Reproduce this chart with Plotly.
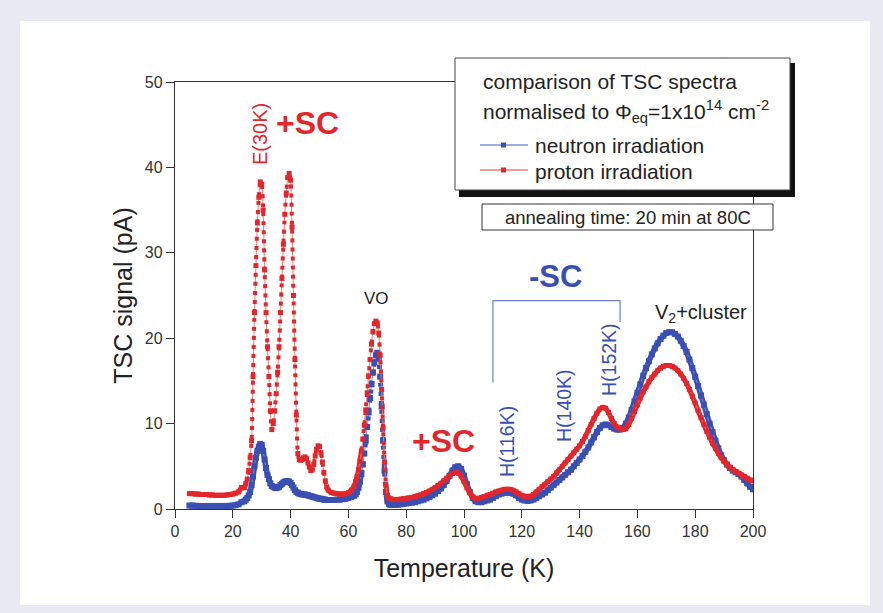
import plotly.graph_objects as go

# ---------------- data ----------------
temp_grid = (list(range(5, 24)) + [24 + 0.5 * i for i in range(59)] + list(range(54, 63))
             + [62.5 + 0.5 * i for i in range(26)] + list(range(76, 201)))

tsc_proton = [
    # 5-23 K
    1.8, 1.8, 1.75, 1.75, 1.7, 1.7, 1.7, 1.65, 1.65, 1.6, 1.6, 1.6, 1.6, 1.65, 1.7, 1.75, 1.85, 2.0, 2.5,
    # 24-53 K (0.5 K)
    2.5, 3.0, 3.5, 4.5, 6.0, 8.0, 15.5, 23.0, 28.5, 33.5,
    36.5, 38.3, 38.0, 35.0, 28.0, 23.0, 19.0, 15.5, 11.5, 9.3,
    10.0, 11.5, 13.5, 16.0, 19.0, 23.0, 27.0, 31.0, 34.5, 37.0,
    38.8, 39.3, 38.5, 33.0, 25.0, 17.5, 11.0, 6.5, 5.8, 5.7,
    5.8, 6.0, 6.1, 5.9, 5.4, 4.9, 4.5, 4.6, 5.2, 6.2,
    7.0, 7.4, 7.3, 6.6, 5.5, 4.3, 3.3, 2.6, 2.2,
    # 54-62 K
    1.95, 1.85, 1.8, 1.75, 1.75, 1.8, 1.9, 2.2, 2.7,
    # 62.5-75 K (0.5 K)
    3.2, 3.8, 4.6, 5.6, 6.8, 8.2, 9.8, 11.6, 13.6, 15.6,
    17.5, 19.3, 20.8, 21.7, 22.0, 21.8, 20.6, 18.0, 14.0, 9.5,
    5.5, 2.8, 1.6, 1.3, 1.2, 1.15,
    # 76-200 K
    1.1, 1.1, 1.15, 1.2, 1.25, 1.3, 1.35, 1.45, 1.55, 1.65,
    1.8, 1.95, 2.1, 2.3, 2.5, 2.75, 3.0, 3.3, 3.6, 3.9,
    4.15, 4.25, 4.2, 3.85, 3.2, 2.5, 1.9, 1.45, 1.25, 1.25,
    1.35, 1.45, 1.6, 1.7, 1.85, 2.0, 2.1, 2.2, 2.3, 2.3,
    2.3, 2.2, 2.0, 1.8, 1.6, 1.5, 1.45, 1.5, 1.7, 2.0,
    2.3, 2.6, 2.9, 3.2, 3.5, 3.8, 4.2, 4.6, 5.0, 5.4,
    5.8, 6.2, 6.6, 7.0, 7.4, 7.9, 8.5, 9.2, 9.9, 10.6,
    11.2, 11.7, 11.9, 11.8, 11.3, 10.6, 10.0, 9.6, 9.4, 9.3,
    9.4, 9.9, 10.6, 11.4, 12.2, 13.0, 13.7, 14.3, 14.9, 15.4,
    15.8, 16.2, 16.5, 16.7, 16.8, 16.8, 16.7, 16.5, 16.2, 15.8,
    15.3, 14.7, 14.0, 13.2, 12.4, 11.5, 10.7, 9.9, 9.1, 8.4,
    7.7, 7.1, 6.5, 6.0, 5.6, 5.2, 4.9, 4.6, 4.4, 4.2,
    4.0, 3.8, 3.6, 3.4, 3.3,
]

tsc_neutron = [
    # 5-23 K
    0.4, 0.4, 0.38, 0.36, 0.35, 0.35, 0.35, 0.35, 0.35, 0.35, 0.35, 0.35, 0.35, 0.36, 0.38, 0.4, 0.45, 0.55, 0.8,
    # 24-53 K (0.5 K)
    0.9, 1.1, 1.3, 1.6, 2.0, 2.8, 3.8, 5.0, 6.0, 6.8,
    7.3, 7.6, 7.5, 6.8, 5.8, 4.8, 4.0, 3.5, 3.0, 2.7,
    2.6, 2.5, 2.45, 2.5, 2.6, 2.8, 2.95, 3.1, 3.2, 3.25,
    3.25, 3.2, 3.05, 2.8, 2.5, 2.2, 2.0, 1.9, 1.8, 1.75,
    1.7, 1.7, 1.7, 1.65, 1.6, 1.55, 1.5, 1.45, 1.4, 1.35,
    1.3, 1.25, 1.2, 1.2, 1.15, 1.1, 1.1, 1.05, 1.05,
    # 54-62 K
    1.05, 1.05, 1.1, 1.1, 1.15, 1.2, 1.3, 1.4, 1.55,
    # 62.5-75 K (0.5 K)
    1.7, 2.0, 2.5, 3.2, 4.1, 5.2, 6.5, 8.0, 9.6, 11.3,
    13.0, 14.6, 16.0, 17.2, 18.0, 18.3, 17.6, 15.5, 12.0, 8.0,
    4.5, 2.0, 0.9, 0.6, 0.5, 0.5,
    # 76-200 K
    0.5, 0.5, 0.55, 0.6, 0.65, 0.7, 0.75, 0.8, 0.9, 1.0,
    1.1, 1.25, 1.4, 1.6, 1.8, 2.1, 2.4, 2.8, 3.3, 3.9,
    4.5, 4.9, 5.0, 4.7, 3.9, 2.9, 2.0, 1.3, 0.9, 0.8,
    0.8, 0.9, 1.0, 1.1, 1.3, 1.5, 1.7, 1.8, 1.9, 1.9,
    1.9, 1.8, 1.6, 1.3, 1.1, 1.0, 0.95, 1.0, 1.1, 1.3,
    1.5, 1.7, 1.9, 2.2, 2.5, 2.8, 3.1, 3.4, 3.7, 4.0,
    4.3, 4.6, 5.0, 5.4, 5.8, 6.2, 6.7, 7.2, 7.8, 8.4,
    9.0, 9.5, 9.8, 9.9, 9.8, 9.6, 9.4, 9.3, 9.3, 9.5,
    10.0, 10.7, 11.6, 12.6, 13.6, 14.6, 15.6, 16.5, 17.3, 18.1,
    18.8, 19.4, 19.9, 20.3, 20.6, 20.7, 20.7, 20.5, 20.2, 19.7,
    19.1, 18.4, 17.5, 16.5, 15.5, 14.4, 13.3, 12.2, 11.1, 10.0,
    9.0, 8.0, 7.1, 6.3, 5.7, 5.2, 4.8, 4.5, 4.3, 4.1,
    3.8, 3.4, 3.0, 2.6, 2.3,
]

x_ticks = [0, 20, 40, 60, 80, 100, 120, 140, 160, 180, 200]
y_ticks = [0, 10, 20, 30, 40, 50]

# bracket over the -SC hole traps (data coordinates)
bracket_x = [110, 110, 154, 154]
bracket_y = [14.8, 24.4, 24.4, 21.9]

RED = "#e3262b"
RED_LINE = "#f07a72"
BLUE = "#3a4fb3"
BLUE_LINE = "#7d8fd6"
FONT = "Liberation Sans, Arial, sans-serif"

# ---------------- layout geometry ----------------
W, H = 883, 613
L, R, T, B = 175, 130, 82, 104
PW, PH = W - L - R, H - T - B


def X(px):
    return (px - L) / PW


def Y(py):
    return (H - B - py) / PH


def keep(values, ranges, inside):
    """Split a series into the parts drawn as solid band / dotted steep parts."""
    out = []
    for t, v in zip(temp_grid, values):
        hit = any(a <= t <= b for a, b in ranges)
        out.append(v if hit == inside else None)
    return out


RED_STEEP = [(24.5, 52.5), (64.5, 73.0)]
BLUE_STEEP = [(64.5, 73.0)]

fig = go.Figure()


def add_series(values, steep, color, light, band_w, msize, name):
    # solid band where the measured points are dense
    outer = [(a + 0.01, b - 0.01) for a, b in steep]
    fig.add_trace(go.Scatter(
        x=temp_grid, y=keep(values, outer, False), mode="lines",
        line=dict(color=color, width=band_w, shape="spline", smoothing=0.6),
        connectgaps=False, showlegend=False, hoverinfo="skip"))
    # thin connecting line everywhere
    fig.add_trace(go.Scatter(
        x=temp_grid, y=values, mode="lines", name=name,
        line=dict(color=light, width=1, shape="spline", smoothing=0.6),
        showlegend=False))
    # dotted (square points) look on steep flanks
    fig.add_trace(go.Scatter(
        x=temp_grid, y=keep(values, steep, True), mode="lines",
        line=dict(color=color, width=msize - 1, shape="spline", smoothing=0.6, dash="4px,5px"),
        connectgaps=False, showlegend=False, hoverinfo="skip"))
    fig.add_trace(go.Scatter(
        x=temp_grid, y=values, mode="markers",
        marker=dict(symbol="square", size=msize, color=color, line=dict(width=0)),
        showlegend=False, hoverinfo="skip"))


add_series(tsc_neutron, BLUE_STEEP, BLUE, BLUE_LINE, 5.5, 6, "neutron irradiation")
add_series(tsc_proton, RED_STEEP, RED, RED_LINE, 5, 5, "proton irradiation")

fig.add_trace(go.Scatter(
    x=bracket_x, y=bracket_y, mode="lines", line=dict(color="#6f7fd0", width=1.2),
    showlegend=False, hoverinfo="skip"))

shapes = []
# white panel on lavender background
shapes.append(dict(type="rect", xref="paper", yref="paper", layer="below",
                   x0=X(20), x1=X(870), y0=Y(605), y1=Y(21),
                   fillcolor="white", line=dict(width=0)))
# legend box shadow + box
shapes.append(dict(type="rect", xref="paper", yref="paper", layer="above",
                   x0=X(459), x1=X(795), y0=Y(197), y1=Y(63),
                   fillcolor="#111111", line=dict(width=0)))
shapes.append(dict(type="rect", xref="paper", yref="paper", layer="above",
                   x0=X(455), x1=X(790), y0=Y(190), y1=Y(58),
                   fillcolor="white", line=dict(color="#444444", width=1)))
# annealing box
shapes.append(dict(type="rect", xref="paper", yref="paper", layer="above",
                   x0=X(482), x1=X(773), y0=Y(230), y1=Y(204),
                   fillcolor="white", line=dict(color="#333333", width=1)))
# legend samples
for py, lc, mc in [(145, BLUE_LINE, BLUE), (170, RED_LINE, RED)]:
    shapes.append(dict(type="line", xref="paper", yref="paper", layer="above",
                       x0=X(480), x1=X(528), y0=Y(py), y1=Y(py),
                       line=dict(color=lc, width=1.5)))
    shapes.append(dict(type="rect", xref="paper", yref="paper", layer="above",
                       x0=X(501), x1=X(506), y0=Y(py + 2.5), y1=Y(py - 2.5),
                       fillcolor=mc, line=dict(width=0)))

annotations = []


def ann(text, px, py, size, color="#222222", bold=False, angle=0, xanchor="center"):
    if bold:
        text = "<b>" + text + "</b>"
    annotations.append(dict(text=text, xref="paper", yref="paper", x=X(px), y=Y(py),
                            xanchor=xanchor, yanchor="middle", showarrow=False,
                            textangle=angle, font=dict(family=FONT, size=size, color=color)))


ann("comparison of TSC spectra", 481, 81, 21, xanchor="left")
ann("normalised to Φ<sub>eq</sub>=1x10<sup>14</sup> cm<sup>-2</sup>", 481, 112, 21, xanchor="left")
ann("neutron irradiation", 533, 145, 21, xanchor="left")
ann("proton irradiation", 533, 171, 21, xanchor="left")
ann("annealing time: 20 min at 80C", 628, 217, 18.5)

ann("E(30K)", 260, 134, 20, color=RED, angle=-90)
ann("+SC", 307, 123, 32, color=RED, bold=True)
ann("VO", 376, 298, 17)
ann("+SC", 443, 441, 32, color=RED, bold=True)
ann("-SC", 555, 276, 31, color=BLUE, bold=True)
ann("H(116K)", 507, 442, 19.5, color=BLUE, angle=-90)
ann("H(140K)", 564, 406, 19.5, color=BLUE, angle=-90)
ann("H(152K)", 609, 360, 19.5, color=BLUE, angle=-90)
ann("V<sub>2</sub>+cluster", 701, 313, 20)

fig.update_layout(
    width=W, height=H,
    margin=dict(l=L, r=R, t=T, b=B, pad=0),
    paper_bgcolor="#e9e9f1", plot_bgcolor="white",
    font=dict(family=FONT, color="#222222"),
    shapes=shapes, annotations=annotations,
    xaxis=dict(range=[0, 200], tickvals=x_ticks, ticks="outside", ticklen=8, tickwidth=1.2,
               tickcolor="#333333", showline=True, linecolor="#333333", linewidth=1.3,
               mirror=True, showgrid=False, zeroline=False,
               tickfont=dict(family=FONT, size=16, color="#333333"),
               title=dict(text="Temperature (K)", font=dict(family=FONT, size=25, color="#222222"),
                          standoff=20)),
    yaxis=dict(range=[0, 50], tickvals=y_ticks, ticks="outside", ticklen=8, tickwidth=1.2,
               tickcolor="#333333", showline=True, linecolor="#333333", linewidth=1.3,
               mirror=True, showgrid=False, zeroline=False,
               tickfont=dict(family=FONT, size=16, color="#333333"),
               title=dict(text="TSC signal (pA)", font=dict(family=FONT, size=25, color="#222222"),
                          standoff=5)),
)

fig.write_html("out.html")
